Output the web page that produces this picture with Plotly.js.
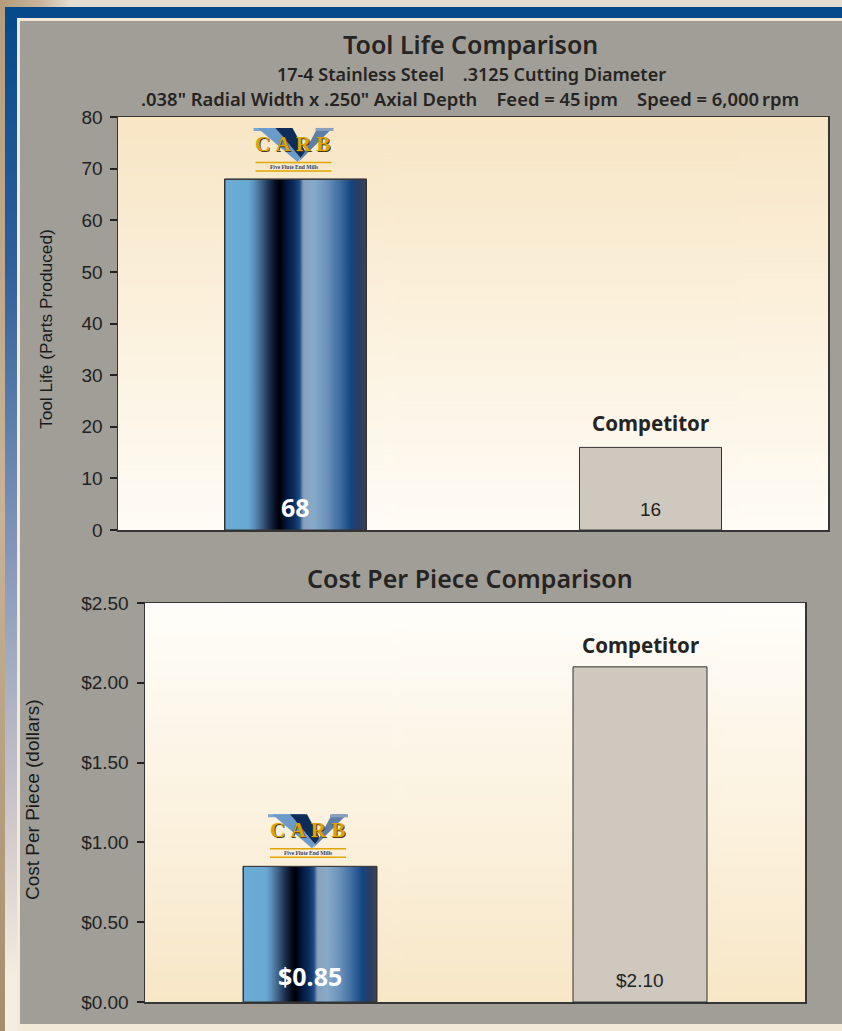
<!DOCTYPE html>
<html>
<head>
<meta charset="utf-8">
<script src="https://cdn.plot.ly/plotly-3.0.1.min.js"></script>
<style>
html,body{margin:0;padding:0;background:#e3dcd0;}
#chart{width:842px;height:1031px;}
#chart .annotation-text{font-stretch:condensed;}
</style>
</head>
<body>
<div id="chart"></div>
<script>
// ---------------- DATA ----------------
const categories = ['V-CARB', 'Competitor'];
const toolLife = [68, 16];
const costPerPiece = [0.85, 2.10];
const toolLifeLabels = ['68', '16'];
const costLabels = ['$0.85', '$2.10'];
const toolLifeTicks = [0, 10, 20, 30, 40, 50, 60, 70, 80];
const costTicks = [0, 0.5, 1.0, 1.5, 2.0, 2.5];
const costTickLabels = ['$0.00', '$0.50', '$1.00', '$1.50', '$2.00', '$2.50'];
const title1 = 'Tool Life Comparison';
const subtitle1 = '17-4 Stainless Steel\u00a0\u00a0\u00a0\u00a0.3125 Cutting Diameter';
const subtitle2 = '.038" Radial Width x .250" Axial Depth\u00a0\u00a0\u00a0\u00a0Feed = 45\u2009ipm\u00a0\u00a0\u00a0\u00a0Speed = 6,000\u2009rpm';
const title2 = 'Cost Per Piece Comparison';
const yTitle1 = 'Tool Life (Parts Produced)';
const yTitle2 = 'Cost Per Piece (dollars)';
const competitorLabel = 'Competitor';
const logoWord = 'C\u2005A\u2005R\u2005B';
const logoTag = 'Five Flute End Mills';

// ---------------- STYLE ----------------
const W = 842, H = 1031;
const NARROW = "'Noto Sans', 'DejaVu Sans Condensed', sans-serif";
const ARIAL = "'Liberation Sans', Arial, sans-serif";
const SERIF = "'Liberation Serif', 'DejaVu Serif', serif";
const px2x = p => p / W;
const px2y = p => 1 - p / H;
const dom1x = [px2x(118), px2x(828)], dom1y = [px2y(530), px2y(117)];
const dom2x = [px2x(145), px2x(805)], dom2y = [px2y(1002), px2y(603)];
const idx = categories.map((c, i) => i);

function frameImage() {
  const c = document.createElement('canvas'); c.width = W; c.height = H;
  const g = c.getContext('2d');
  g.fillStyle = '#e3dcd0'; g.fillRect(0, 0, W, H);
  let gr = g.createLinearGradient(0, 0, 70, 0);
  gr.addColorStop(0, '#b39a7a'); gr.addColorStop(0.6, '#c9b79e'); gr.addColorStop(1, '#e3dcd0');
  g.fillStyle = gr; g.fillRect(0, 0, 70, 8);
  gr = g.createLinearGradient(0, 0, 0, H);
  gr.addColorStop(0, '#b69d7c'); gr.addColorStop(0.5, '#c8b396'); gr.addColorStop(1, '#a68d6c');
  g.fillStyle = gr; g.fillRect(0, 0, 5, H);
  g.fillStyle = '#05498b'; g.fillRect(5, 7, W - 5, 11);
  gr = g.createLinearGradient(0, 7, 0, H);
  gr.addColorStop(0, '#05498b'); gr.addColorStop(0.25, '#2e5f9c'); gr.addColorStop(0.55, '#8a9aba');
  gr.addColorStop(0.8, '#cfc9cb'); gr.addColorStop(0.95, '#f4ede1'); gr.addColorStop(1, '#f4ede1');
  g.fillStyle = gr; g.fillRect(5, 7, 12, H - 7);
  g.fillStyle = '#f2e9d9'; g.fillRect(17, 18, W - 17, H - 18);
  g.fillStyle = '#a19e97'; g.fillRect(20, 21, W - 20, 1003);
  return c.toDataURL();
}
function vGrad(top, bottom) {
  const c = document.createElement('canvas'); c.width = 4; c.height = 400;
  const g = c.getContext('2d');
  const gr = g.createLinearGradient(0, 0, 0, 400);
  gr.addColorStop(0, top); gr.addColorStop(1, bottom);
  g.fillStyle = gr; g.fillRect(0, 0, 4, 400);
  return c.toDataURL();
}
function barImage() {
  const w = 142, h = 400;
  const c = document.createElement('canvas'); c.width = w; c.height = h;
  const g = c.getContext('2d');
  const gr = g.createLinearGradient(0, 0, w, 0);
  const stops = [[0, '#6badd6'], [0.17, '#69a9d2'], [0.21, '#5b8fb9'], [0.26, '#3f6286'], [0.31, '#1f3453'],
    [0.36, '#050d22'], [0.39, '#000000'], [0.43, '#03133a'], [0.49, '#0b2e60'], [0.53, '#1e4d83'],
    [0.555, '#8aa0bf'], [0.63, '#86abc9'], [0.72, '#6c92bb'], [0.81, '#3f6ea3'], [0.89, '#15467f'],
    [0.95, '#2a3d62'], [1, '#3e4456']];
  stops.forEach(s => gr.addColorStop(s[0], s[1]));
  g.fillStyle = gr; g.fillRect(0, 0, w, h);
  g.strokeStyle = '#3a3a3a'; g.lineWidth = 2; g.strokeRect(0, 0, w, h + 4);
  return c.toDataURL();
}

const BAR_W1 = 0.4, BAR_W2 = 0.406;
const frameSrc = frameImage();
const bgTop = vGrad('#f8e6c5', '#fffcf6');
const bgBottom = vGrad('#fffefa', '#f8e7c7');
const barSrc = barImage();

const traces = [
  {
    type: 'bar', x: idx, y: toolLife, width: BAR_W1, xaxis: 'x', yaxis: 'y',
    marker: { color: ['rgba(0,0,0,0)', '#cfc8bf'], line: { color: '#333333', width: 1 } },
    hoverinfo: 'skip', showlegend: false
  },
  {
    type: 'bar', x: idx, y: costPerPiece, width: BAR_W2, xaxis: 'x2', yaxis: 'y2',
    marker: { color: ['rgba(0,0,0,0)', '#cfc8bf'], line: { color: '#333333', width: 1 } },
    hoverinfo: 'skip', showlegend: false
  }
];

const images = [
  { source: frameSrc, xref: 'paper', yref: 'paper', x: 0, y: 1, sizex: 1, sizey: 1, sizing: 'stretch', xanchor: 'left', yanchor: 'top', layer: 'below' },
  { source: bgTop, xref: 'paper', yref: 'paper', x: dom1x[0], y: dom1y[1], sizex: dom1x[1] - dom1x[0], sizey: dom1y[1] - dom1y[0], sizing: 'stretch', xanchor: 'left', yanchor: 'top', layer: 'below' },
  { source: bgBottom, xref: 'paper', yref: 'paper', x: dom2x[0], y: dom2y[1], sizex: dom2x[1] - dom2x[0], sizey: dom2y[1] - dom2y[0], sizing: 'stretch', xanchor: 'left', yanchor: 'top', layer: 'below' },
  { source: barSrc, xref: 'x', yref: 'y', x: idx[0] - BAR_W1 / 2, y: toolLife[0], sizex: BAR_W1, sizey: toolLife[0], sizing: 'stretch', xanchor: 'left', yanchor: 'top', layer: 'below' },
  { source: barSrc, xref: 'x2', yref: 'y2', x: idx[0] - BAR_W2 / 2, y: costPerPiece[0], sizex: BAR_W2, sizey: costPerPiece[0], sizing: 'stretch', xanchor: 'left', yanchor: 'top', layer: 'below' }
];

// logo shapes (pixel offsets relative to the top of the V-CARB bar)
function logoShapes(xr, yr, xv, yv, lift) {
  const base = { xref: xr, yref: yr, xsizemode: 'pixel', ysizemode: 'pixel', xanchor: xv, yanchor: yv, layer: 'above' };
  const L = v => v + lift;
  const P = pts => 'M ' + pts.map(p => p[0] + ' ' + L(p[1])).join(' L ') + ' Z';
  return [
    Object.assign({ type: 'path', path: P([[-42, 51], [-5, 51], [-5, 48], [-42, 48]]), fillcolor: '#7aa6d2', line: { width: 0 } }, base),
    Object.assign({ type: 'path', path: P([[-38, 51], [-20, 51], [5, 21], [2, 17]]), fillcolor: '#6b9bcb', line: { width: 0 } }, base),
    Object.assign({ type: 'path', path: P([[-20, 51], [-3, 51], [10, 27], [5, 21]]), fillcolor: '#0e2c58', line: { width: 0 } }, base),
    Object.assign({ type: 'path', path: P([[22, 51], [37, 51], [3, 17], [9, 27]]), fillcolor: '#5d7ea6', line: { width: 0 } }, base),
    Object.assign({ type: 'path', path: P([[20, 51], [38, 51], [38, 48], [20, 48]]), fillcolor: '#8aa0bd', line: { width: 0 } }, base),
    Object.assign({ type: 'line', x0: -40, x1: 36, y0: L(16.5), y1: L(16.5), line: { color: '#e2a600', width: 1.5 } }, base),
    Object.assign({ type: 'line', x0: -40, x1: 36, y0: L(8), y1: L(8), line: { color: '#e2a600', width: 1.5 } }, base)
  ];
}
const shapes = [].concat(
  logoShapes('x', 'y', idx[0], toolLife[0], 0),
  logoShapes('x2', 'y2', idx[0], costPerPiece[0], 1)
);

function logoAnn(xr, yr, xv, yv, lift) {
  return [
    { xref: xr, yref: yr, x: xv, y: yv, xshift: -3, yshift: 35 + lift, text: logoWord, showarrow: false, yanchor: 'middle',
      font: { family: SERIF, size: 21, color: '#dba309', weight: 700, shadow: '1px 1px 0px #4a3a10' } },
    { xref: xr, yref: yr, x: xv, y: yv, xshift: -2, yshift: 12 + lift, text: logoTag, showarrow: false, yanchor: 'middle',
      font: { family: SERIF, size: 5.5, color: '#34406a', weight: 700 } }
  ];
}

const annotations = [
  { xref: 'paper', yref: 'paper', x: px2x(470), y: px2y(44), text: title1, showarrow: false, xanchor: 'center', yanchor: 'middle',
    font: { family: NARROW, size: 25, color: '#262422', weight: 600 } },
  { xref: 'paper', yref: 'paper', x: px2x(471), y: px2y(74), text: subtitle1, showarrow: false, xanchor: 'center', yanchor: 'middle',
    font: { family: NARROW, size: 18, color: '#262422', weight: 600 } },
  { xref: 'paper', yref: 'paper', x: px2x(470), y: px2y(99), text: subtitle2, showarrow: false, xanchor: 'center', yanchor: 'middle',
    font: { family: NARROW, size: 18.4, color: '#262422', weight: 600 } },
  { xref: 'paper', yref: 'paper', x: px2x(470), y: px2y(578), text: title2, showarrow: false, xanchor: 'center', yanchor: 'middle',
    font: { family: NARROW, size: 25, color: '#262422', weight: 600 } },
  { xref: 'paper', yref: 'paper', x: px2x(46), y: px2y(329), text: yTitle1, textangle: -90, showarrow: false,
    xanchor: 'center', yanchor: 'middle', font: { family: ARIAL, size: 17.3, color: '#1a1a1a' } },
  { xref: 'paper', yref: 'paper', x: px2x(32), y: px2y(800), text: yTitle2, textangle: -90, showarrow: false,
    xanchor: 'center', yanchor: 'middle', font: { family: ARIAL, size: 19, color: '#1a1a1a' } },
  // value labels
  { xref: 'x', yref: 'y', x: idx[0], y: 0, yshift: 23, text: toolLifeLabels[0], showarrow: false, yanchor: 'middle',
    font: { family: NARROW, size: 25, color: '#ffffff', weight: 700 } },
  { xref: 'x', yref: 'y', x: idx[1], y: 0, yshift: 21, text: toolLifeLabels[1], showarrow: false, yanchor: 'middle',
    font: { family: ARIAL, size: 19, color: '#222222' } },
  { xref: 'x2', yref: 'y2', x: idx[0], y: 0, yshift: 26, text: costLabels[0], showarrow: false, yanchor: 'middle',
    font: { family: NARROW, size: 25, color: '#ffffff', weight: 700 } },
  { xref: 'x2', yref: 'y2', x: idx[1], y: 0, yshift: 22, text: costLabels[1], showarrow: false, yanchor: 'middle',
    font: { family: ARIAL, size: 19, color: '#222222' } },
  // competitor labels
  { xref: 'x', yref: 'y', x: idx[1], y: toolLife[1], yshift: 24, text: competitorLabel, showarrow: false, yanchor: 'middle',
    font: { family: NARROW, size: 20.5, color: '#262422', weight: 700 } },
  { xref: 'x2', yref: 'y2', x: idx[1], y: costPerPiece[1], yshift: 22, text: competitorLabel, showarrow: false, yanchor: 'middle',
    font: { family: NARROW, size: 20.5, color: '#262422', weight: 700 } }
].concat(logoAnn('x', 'y', idx[0], toolLife[0], 0), logoAnn('x2', 'y2', idx[0], costPerPiece[0], 1));

const axisLine = { showline: true, mirror: true, linecolor: '#353535', linewidth: 1.5, showgrid: false, zeroline: false, fixedrange: true };
const layout = {
  width: W, height: H,
  margin: { l: 0, r: 0, t: 0, b: 0 },
  paper_bgcolor: '#a19e97', plot_bgcolor: 'rgba(0,0,0,0)',
  showlegend: false, bargap: 0, hovermode: false,
  xaxis: Object.assign({ domain: dom1x, range: [-0.5, 1.5], showticklabels: false, ticks: '', anchor: 'y' }, axisLine),
  yaxis: Object.assign({ domain: dom1y, range: [0, 80], tickvals: toolLifeTicks, ticks: 'outside', ticklen: 7, tickwidth: 2,
    tickcolor: '#222222', ticklabelstandoff: 3, tickfont: { family: ARIAL, size: 19, color: '#222222' }, anchor: 'x' }, axisLine),
  xaxis2: Object.assign({ domain: dom2x, range: [-0.5, 1.5], showticklabels: false, ticks: '', anchor: 'y2' }, axisLine),
  yaxis2: Object.assign({ domain: dom2y, range: [0, 2.5], tickvals: costTicks, ticktext: costTickLabels, ticks: 'outside',
    ticklen: 7, tickwidth: 2, tickcolor: '#222222', ticklabelstandoff: 4, tickfont: { family: ARIAL, size: 19, color: '#222222' }, anchor: 'x2' }, axisLine),
  images: images,
  shapes: shapes,
  annotations: annotations
};

Plotly.newPlot('chart', traces, layout, { displayModeBar: false, staticPlot: true });
</script>
</body>
</html>
